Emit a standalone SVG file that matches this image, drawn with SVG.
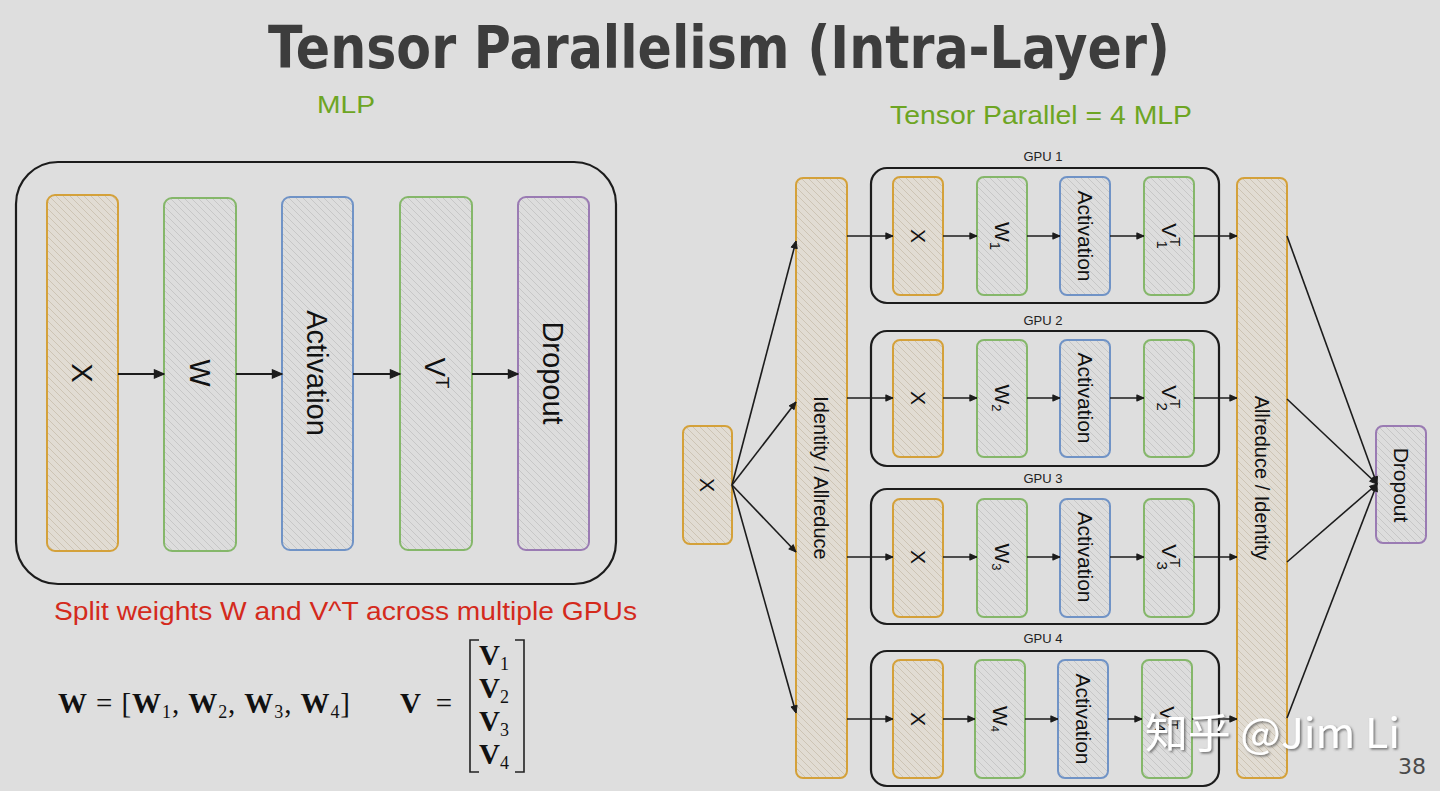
<svg xmlns="http://www.w3.org/2000/svg" width="1440" height="791" viewBox="0 0 1440 791">
  <defs>
    <style>
      .bg { fill: #dedede; }
      .title { font-family: "DejaVu Sans", "Liberation Sans", sans-serif; font-weight: bold; fill: #3d3d3d; }
      .green { font-family: "Liberation Sans", Arial, sans-serif; fill: #6da523; }
      .red { font-family: "Liberation Sans", Arial, sans-serif; fill: #d42a1c; }
      .lbl { font-family: "Liberation Sans", Arial, sans-serif; fill: #111; text-anchor: middle; dominant-baseline: central; }
      .big { font-size: 29px; }
      .mid { font-size: 21px; }
      .bar { font-size: 20px; }
      .gpu { font-family: "Liberation Sans", Arial, sans-serif; font-size: 13px; fill: #222; text-anchor: middle; }
      .frame { fill: none; stroke: #1c1c1c; stroke-width: 2.2; }
      .bx { stroke-width: 2; }
      .o { fill: url(#hatchO); stroke: #d4a13a; }
      .g { fill: url(#hatchN); stroke: #85b76a; }
      .b { fill: url(#hatchN); stroke: #7093c6; }
      .p { fill: url(#hatchN); stroke: #9a7bb3; }
      .edge { fill: none; stroke: #1c1c1c; stroke-width: 1.6; marker-end: url(#ah); }
      .edgeL { fill: none; stroke: #1c1c1c; stroke-width: 2.2; marker-end: url(#ahL); }
      .math { font-family: "Liberation Serif", "Times New Roman", serif; fill: #111; }
    </style>
    <pattern id="hatchN" width="7" height="7" patternUnits="userSpaceOnUse">
      <rect width="7" height="7" fill="#dddddd"/>
      <path d="M-1,-1 L8,8 M-1,6 L1,8 M6,-1 L8,1" stroke="#c7c7c7" stroke-width="1"/>
    </pattern>
    <pattern id="hatchO" width="7" height="7" patternUnits="userSpaceOnUse">
      <rect width="7" height="7" fill="#e1dcd3"/>
      <path d="M-1,-1 L8,8 M-1,6 L1,8 M6,-1 L8,1" stroke="#cdc4b4" stroke-width="1"/>
    </pattern>
    <marker id="ah" viewBox="0 0 10 10" refX="9" refY="5" markerWidth="9" markerHeight="9" orient="auto" markerUnits="userSpaceOnUse">
      <path d="M1,1.5 L9,5 L1,8.5 Z" fill="#1c1c1c" stroke="#1c1c1c" stroke-width="1"/>
    </marker>
    <marker id="ahL" viewBox="0 0 10 10" refX="9" refY="5" markerWidth="12" markerHeight="12" orient="auto" markerUnits="userSpaceOnUse">
      <path d="M1,1.5 L9,5 L1,8.5 Z" fill="#1c1c1c" stroke="#1c1c1c" stroke-width="1"/>
    </marker>
    <filter id="shadow" x="-5%" y="-20%" width="110%" height="140%">
      <feDropShadow dx="1.5" dy="1.5" stdDeviation="1" flood-color="#555" flood-opacity="0.8"/>
    </filter>
  </defs>

  <rect class="bg" x="0" y="0" width="1440" height="791"/>

  <!-- headings -->
  <g id="headings">
    <text class="title" x="268" y="68" font-size="58" textLength="902" lengthAdjust="spacingAndGlyphs">Tensor Parallelism (Intra-Layer)</text>
    <text class="green" x="317" y="113" font-size="24" textLength="58" lengthAdjust="spacingAndGlyphs">MLP</text>
    <text class="green" x="890" y="124" font-size="26" textLength="302" lengthAdjust="spacingAndGlyphs">Tensor Parallel = 4 MLP</text>
  </g>

  <!-- single MLP block -->
  <g id="mlp">
    <rect class="frame" x="16" y="162" width="600" height="422" rx="42"/>
    <g id="mlp-x">
      <rect class="bx o" x="47" y="195" width="71" height="356" rx="8"/>
      <text class="lbl big" transform="translate(82,373) rotate(90)">X</text>
    </g>
    <g id="mlp-w">
      <rect class="bx g" x="164" y="198" width="72" height="353" rx="8"/>
      <text class="lbl big" transform="translate(200,373) rotate(90)">W</text>
    </g>
    <g id="mlp-act">
      <rect class="bx b" x="282" y="197" width="71" height="353" rx="8"/>
      <text class="lbl big" transform="translate(317,373) rotate(90)">Activation</text>
    </g>
    <g id="mlp-vt">
      <rect class="bx g" x="400" y="197" width="72" height="353" rx="8"/>
      <text class="lbl big" transform="translate(435,373) rotate(90)">V<tspan font-size="19" dy="-8">T</tspan></text>
    </g>
    <g id="mlp-drop">
      <rect class="bx p" x="518" y="197" width="71" height="353" rx="8"/>
      <text class="lbl big" transform="translate(553,373) rotate(90)">Dropout</text>
    </g>
  </g>

  <text class="red" x="54" y="620" font-size="26" textLength="583" lengthAdjust="spacingAndGlyphs">Split weights W and V^T across multiple GPUs</text>

  <!-- weight split formulas -->
  <g id="formula">
    <text class="math" x="58" y="713" font-size="29" textLength="292"><tspan font-weight="bold">W</tspan> = [<tspan font-weight="bold">W</tspan><tspan font-size="18" dy="5">1</tspan><tspan dy="-5">, </tspan><tspan font-weight="bold">W</tspan><tspan font-size="18" dy="5">2</tspan><tspan dy="-5">, </tspan><tspan font-weight="bold">W</tspan><tspan font-size="18" dy="5">3</tspan><tspan dy="-5">, </tspan><tspan font-weight="bold">W</tspan><tspan font-size="18" dy="5">4</tspan><tspan dy="-5">]</tspan></text>
    <text class="math" x="400" y="713" font-size="29" textLength="52"><tspan font-weight="bold">V</tspan> =</text>
    <path d="M479,640 L470,640 L470,772 L479,772 M515,640 L524,640 L524,772 L515,772" fill="none" stroke="#222" stroke-width="1.6"/>
    <text class="math" x="479" y="665" font-size="29"><tspan font-weight="bold">V</tspan><tspan font-size="18" dy="5">1</tspan></text>
    <text class="math" x="479" y="698" font-size="29"><tspan font-weight="bold">V</tspan><tspan font-size="18" dy="5">2</tspan></text>
    <text class="math" x="479" y="731" font-size="29"><tspan font-weight="bold">V</tspan><tspan font-size="18" dy="5">3</tspan></text>
    <text class="math" x="479" y="764" font-size="29"><tspan font-weight="bold">V</tspan><tspan font-size="18" dy="5">4</tspan></text>
  </g>

  <!-- tensor parallel layout -->
  <g id="tp-input">
    <rect class="bx o" x="683" y="426" width="49" height="118" rx="7"/>
    <text class="lbl mid" transform="translate(707,485) rotate(90)">X</text>
  </g>
  <g id="tp-identity">
    <rect class="bx o" x="796" y="178" width="51" height="600" rx="7"/>
    <text class="lbl bar" transform="translate(821,478) rotate(90)">Identity / Allreduce</text>
  </g>
  <g id="tp-allreduce">
    <rect class="bx o" x="1237" y="178" width="50" height="600" rx="7"/>
    <text class="lbl bar" transform="translate(1262,478) rotate(90)">Allreduce / Identity</text>
  </g>
  <g id="tp-dropout">
    <rect class="bx p" x="1376" y="426" width="50" height="117" rx="7"/>
    <text class="lbl mid" transform="translate(1401,485) rotate(90)">Dropout</text>
  </g>

  <g id="gpu1">
    <text class="gpu" x="1043" y="161">GPU 1</text>
    <rect class="frame" x="871" y="168" width="348" height="135" rx="16"/>
    <rect class="bx o" x="893" y="177" width="50" height="118" rx="7"/>
    <text class="lbl mid" transform="translate(918,236) rotate(90)">X</text>
    <rect class="bx g" x="977" y="177" width="50" height="118" rx="7"/>
    <text class="lbl mid" transform="translate(1002,236) rotate(90)">W<tspan font-size="15" dy="6">1</tspan></text>
    <rect class="bx b" x="1060" y="177" width="50" height="118" rx="7"/>
    <text class="lbl mid" transform="translate(1085,236) rotate(90)">Activation</text>
    <rect class="bx g" x="1144" y="177" width="50" height="118" rx="7"/>
    <text class="lbl mid" transform="translate(1169,236) rotate(90)">V<tspan font-size="15" dy="-7">T</tspan><tspan font-size="15" dx="-6" dy="13">1</tspan></text>
  </g>
  <g id="gpu2">
    <text class="gpu" x="1043" y="325">GPU 2</text>
    <rect class="frame" x="871" y="331" width="348" height="135" rx="16"/>
    <rect class="bx o" x="893" y="340" width="50" height="117" rx="7"/>
    <text class="lbl mid" transform="translate(918,398) rotate(90)">X</text>
    <rect class="bx g" x="977" y="340" width="50" height="117" rx="7"/>
    <text class="lbl mid" transform="translate(1002,398) rotate(90)">W<tspan font-size="13" dy="5">2</tspan></text>
    <rect class="bx b" x="1060" y="340" width="50" height="117" rx="7"/>
    <text class="lbl mid" transform="translate(1085,398) rotate(90)">Activation</text>
    <rect class="bx g" x="1144" y="340" width="50" height="117" rx="7"/>
    <text class="lbl mid" transform="translate(1169,398) rotate(90)">V<tspan font-size="15" dy="-7">T</tspan><tspan font-size="15" dx="-6" dy="13">2</tspan></text>
  </g>
  <g id="gpu3">
    <text class="gpu" x="1043" y="483">GPU 3</text>
    <rect class="frame" x="871" y="489" width="348" height="135" rx="16"/>
    <rect class="bx o" x="893" y="499" width="50" height="118" rx="7"/>
    <text class="lbl mid" transform="translate(918,557) rotate(90)">X</text>
    <rect class="bx g" x="977" y="499" width="50" height="118" rx="7"/>
    <text class="lbl mid" transform="translate(1002,557) rotate(90)">W<tspan font-size="13" dy="5">3</tspan></text>
    <rect class="bx b" x="1060" y="499" width="50" height="118" rx="7"/>
    <text class="lbl mid" transform="translate(1085,557) rotate(90)">Activation</text>
    <rect class="bx g" x="1144" y="499" width="50" height="118" rx="7"/>
    <text class="lbl mid" transform="translate(1169,557) rotate(90)">V<tspan font-size="15" dy="-7">T</tspan><tspan font-size="15" dx="-6" dy="13">3</tspan></text>
  </g>
  <g id="gpu4">
    <text class="gpu" x="1043" y="643">GPU 4</text>
    <rect class="frame" x="871" y="651" width="348" height="135" rx="16"/>
    <rect class="bx o" x="893" y="660" width="50" height="118" rx="7"/>
    <text class="lbl mid" transform="translate(918,719) rotate(90)">X</text>
    <rect class="bx g" x="975" y="660" width="50" height="118" rx="7"/>
    <text class="lbl mid" transform="translate(1000,719) rotate(90)">W<tspan font-size="11" dy="5">4</tspan></text>
    <rect class="bx b" x="1058" y="660" width="50" height="118" rx="7"/>
    <text class="lbl mid" transform="translate(1083,719) rotate(90)">Activation</text>
    <rect class="bx g" x="1142" y="660" width="50" height="118" rx="7"/>
    <text class="lbl mid" transform="translate(1167,719) rotate(90)">V<tspan font-size="15" dy="-7">T</tspan><tspan font-size="15" dx="-6" dy="13">4</tspan></text>
  </g>

  <!-- connectors -->
  <g id="connectors">
    <!-- single MLP chain -->
    <path class="edgeL" d="M118,374 L164,374"/>
    <path class="edgeL" d="M236,374 L282,374"/>
    <path class="edgeL" d="M353,374 L400,374"/>
    <path class="edgeL" d="M472,374 L518,374"/>
    <!-- input fan-out -->
    <path class="edge" d="M732,485 L796,241"/>
    <path class="edge" d="M732,485 L796,402"/>
    <path class="edge" d="M732,485 L796,552"/>
    <path class="edge" d="M732,485 L796,713"/>
    <!-- per-GPU chains -->
    <path class="edge" d="M847,236 L893,236"/>
    <path class="edge" d="M943,236 L977,236"/>
    <path class="edge" d="M1027,236 L1060,236"/>
    <path class="edge" d="M1110,236 L1144,236"/>
    <path class="edge" d="M1194,236 L1237,236"/>
    <path class="edge" d="M847,398 L893,398"/>
    <path class="edge" d="M943,398 L977,398"/>
    <path class="edge" d="M1027,398 L1060,398"/>
    <path class="edge" d="M1110,398 L1144,398"/>
    <path class="edge" d="M1194,398 L1237,398"/>
    <path class="edge" d="M847,557 L893,557"/>
    <path class="edge" d="M943,557 L977,557"/>
    <path class="edge" d="M1027,557 L1060,557"/>
    <path class="edge" d="M1110,557 L1144,557"/>
    <path class="edge" d="M1194,557 L1237,557"/>
    <path class="edge" d="M847,719 L893,719"/>
    <path class="edge" d="M943,719 L975,719"/>
    <path class="edge" d="M1025,719 L1058,719"/>
    <path class="edge" d="M1108,719 L1142,719"/>
    <path class="edge" d="M1192,719 L1237,719"/>
    <!-- gather into dropout -->
    <path class="edge" d="M1287,236 L1377,484"/>
    <path class="edge" d="M1287,399 L1377,484"/>
    <path class="edge" d="M1287,562 L1377,484"/>
    <path class="edge" d="M1287,718 L1377,484"/>
  </g>

  <!-- page mark -->
  <g id="watermark">
    <text x="1145" y="748" font-family="'Noto Sans CJK SC', 'Noto Sans', sans-serif" font-size="41" fill="#ffffff" filter="url(#shadow)" textLength="255" lengthAdjust="spacingAndGlyphs">知乎 @Jim Li</text>
    <text x="1398" y="774" font-family="'DejaVu Sans', sans-serif" font-size="22" fill="#4a4a4a">38</text>
  </g>
</svg>
